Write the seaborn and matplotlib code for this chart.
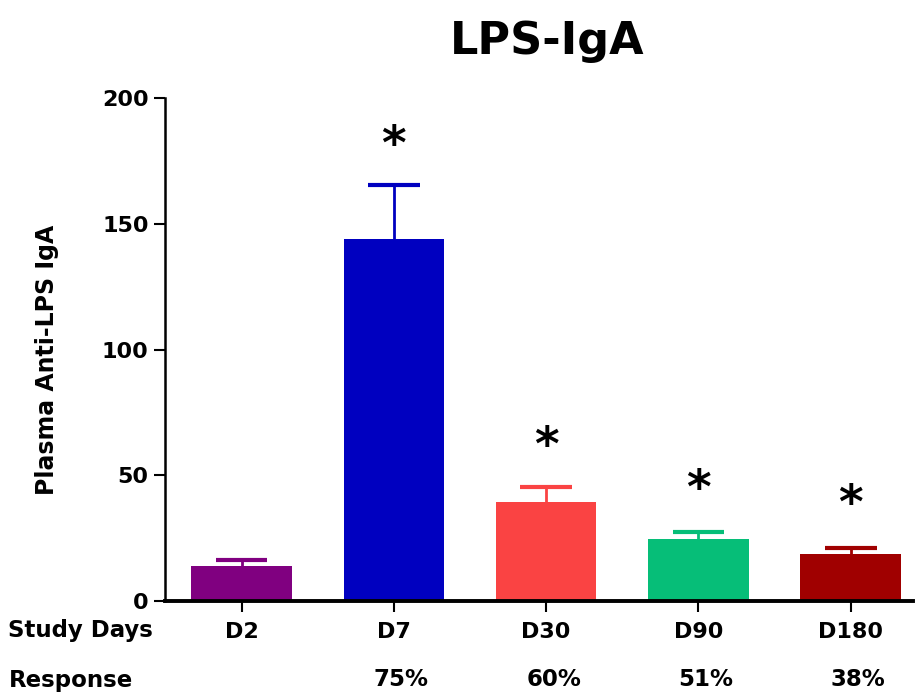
import matplotlib
matplotlib.use("Agg")
import matplotlib.pyplot as plt
import matplotlib.transforms as mtransforms
import seaborn as sns
import pandas as pd

days = ["D2", "D7", "D30", "D90", "D180"]
means = [14.0, 144.0, 39.5, 24.8, 18.8]
sem = [2.3, 21.5, 5.8, 2.6, 2.2]
response = ["", "75%", "60%", "51%", "38%"]
stars = ["", "*", "*", "*", "*"]
star_y = [0, 181, 61, 44, 38]
colors = ["#800080", "#0000C0", "#FA4343", "#06BE78", "#A00000"]

sns.set_style("ticks")
plt.rcParams["font.family"] = ["DejaVu Sans"]
plt.rcParams["font.weight"] = "bold"
for k in ["text.color", "axes.labelcolor", "xtick.color", "ytick.color", "axes.edgecolor"]:
    plt.rcParams[k] = "black"

df = pd.DataFrame({"day": days, "value": means})

fig = plt.figure(figsize=(9.15, 6.92), dpi=100)
ax = fig.add_axes([0.180, 0.1315, 0.818, 0.7265])

sns.barplot(data=df, x="day", y="value", hue="day", palette=colors,
            order=days, hue_order=days, width=0.66, legend=False,
            errorbar=None, saturation=1, linewidth=0, ax=ax)

xs = [p.get_x() + p.get_width() / 2 for p in ax.patches]
cap_half = 0.17
for x, m, e, c in zip(xs, means, sem, colors):
    ax.vlines(x, m, m + e, colors=c, linewidth=2, zorder=1)
    ax.hlines(m + e, x - cap_half, x + cap_half, colors=c, linewidth=3, zorder=1)

for x, s, sy in zip(xs, stars, star_y):
    if s:
        ax.text(x, sy, s, ha="center", va="center", fontsize=34,
                fontweight="bold", color="black")

ax.set_ylim(0, 200)
ax.set_xlim(-0.505, 4.41)
ax.set_yticks([0, 50, 100, 150, 200])
ax.set_xlabel("")
ax.set_ylabel("Plasma Anti-LPS IgA", fontsize=17, fontweight="bold", labelpad=31)
ax.yaxis.label.set_y(0.479)
ax.tick_params(axis="both", labelsize=16, width=1.5, length=8, direction="out")
ax.tick_params(axis="x", pad=7)
for lab in ax.get_xticklabels() + ax.get_yticklabels():
    lab.set_fontweight("bold")
ax.spines["left"].set_linewidth(1.8)
ax.spines["bottom"].set_linewidth(2.8)
sns.despine(ax=ax)

fig.text(0.598, 0.94, "LPS-IgA", ha="center", va="center", fontsize=32,
         fontweight="bold")
fig.text(0.009, 1 - 630 / 692, "Study Days", ha="left", va="center",
         fontsize=16.5, fontweight="bold")
fig.text(0.010, 1 - 680 / 692, "Response", ha="left", va="center",
         fontsize=16.5, fontweight="bold")
trans = mtransforms.blended_transform_factory(ax.transData, fig.transFigure)
for x, r in zip(xs, response):
    if r:
        ax.text(x + 0.05, 1 - 680 / 692, r, transform=trans, ha="center", va="center",
                fontsize=16.5, fontweight="bold", clip_on=False)

fig.savefig("out.png", dpi=100)
